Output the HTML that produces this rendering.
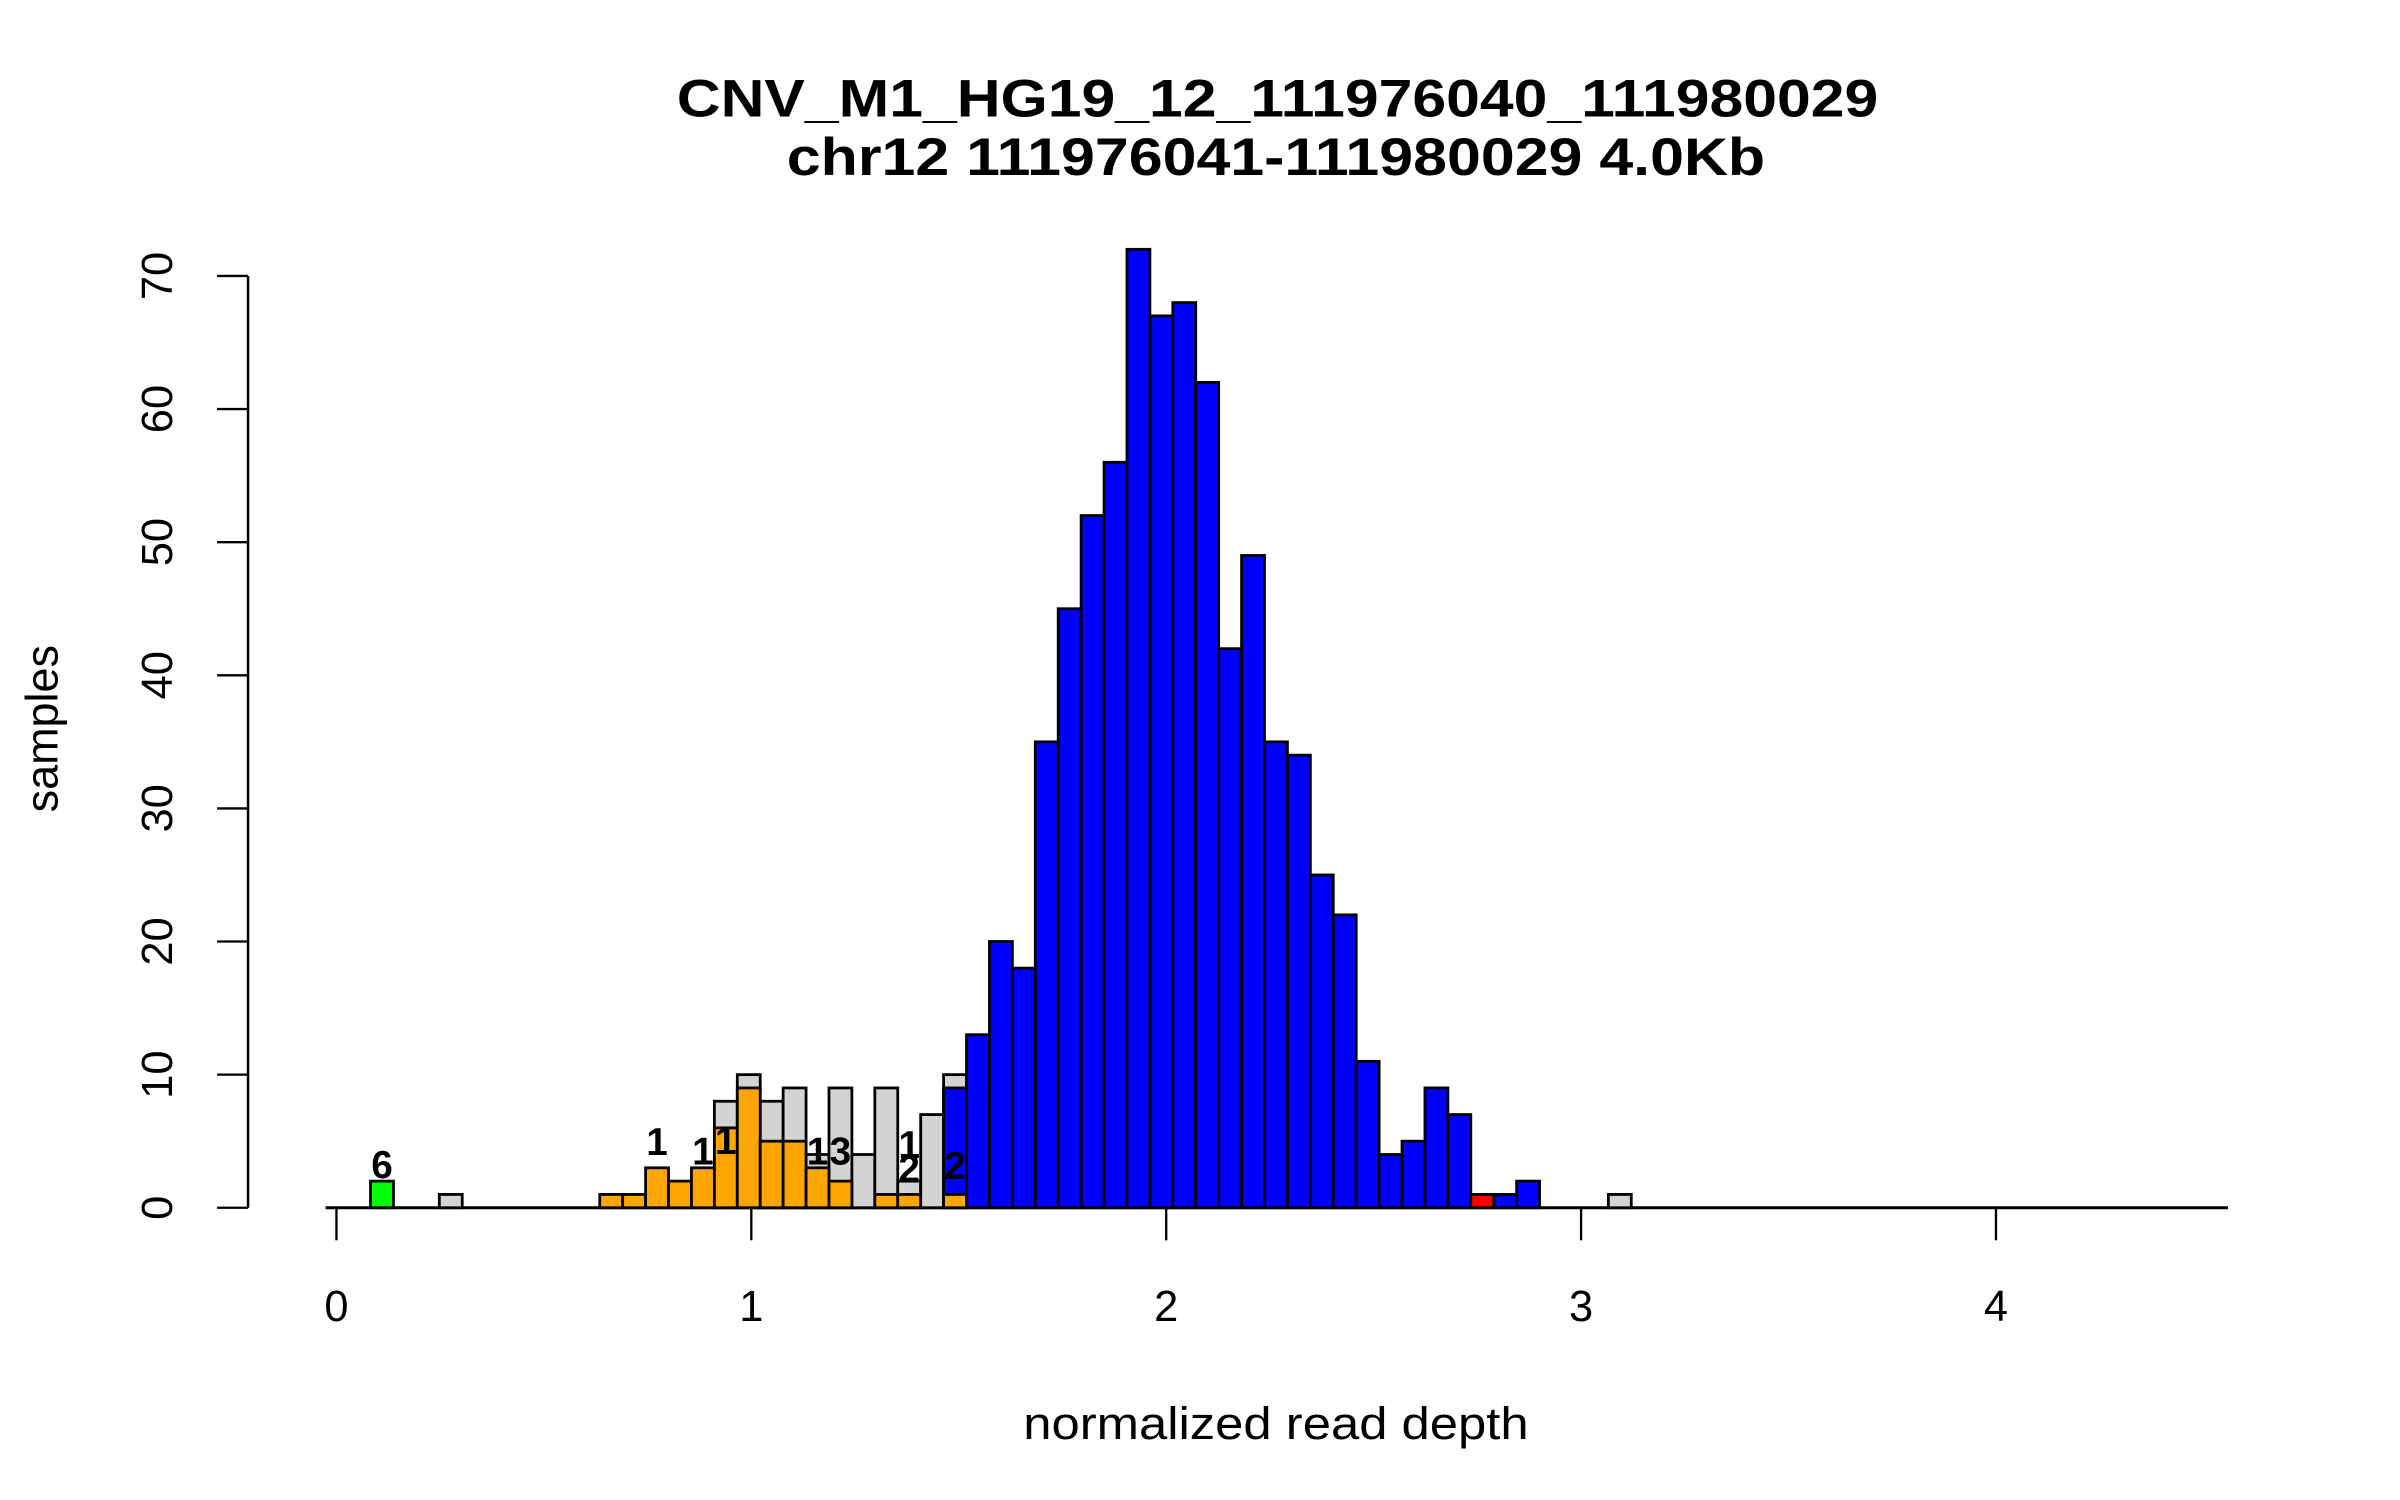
<!DOCTYPE html>
<html><head><meta charset="utf-8"><style>
html,body{margin:0;padding:0;background:#fff}
svg{display:block}
text{font-family:"Liberation Sans",sans-serif;fill:#000}
</style></head><body>
<svg id="chart" width="2400" height="1500" viewBox="0 0 1548 967.5" xmlns="http://www.w3.org/2000/svg">
<text x="824" y="75" text-anchor="middle" font-size="34" font-weight="bold" textLength="775" lengthAdjust="spacingAndGlyphs">CNV_M1_HG19_12_111976040_111980029</text>
<text x="823" y="113" text-anchor="middle" font-size="34" font-weight="bold" textLength="631" lengthAdjust="spacingAndGlyphs">chr12 111976041-111980029 4.0Kb</text>
<text x="823" y="928" text-anchor="middle" font-size="29" textLength="326" lengthAdjust="spacingAndGlyphs">normalized read depth</text>
<text transform="translate(37,470) rotate(-90)" text-anchor="middle" font-size="29">samples</text>
<g id="axes"></g>
<g id="bars"></g>
<g id="labels"></g>
</svg>
<script>
// bin index, bar heights (full histogram = gray, blue, orange, green, red overlays)
const binIdx   = [0,3,10,11,12,13,14,15,16,17,18,19,20,21,22,23,24,25,26,27,28,29,30,31,32,33,34,35,36,37,38,39,40,41,42,43,44,45,46,47,48,49,50,54];
const grayVals = [0,1,0,0,0,0,0,8,10,8,9,4,9,4,9,2,7,10,0,0,0,0,0,0,0,0,0,0,0,0,0,0,0,0,0,0,0,0,0,0,0,0,0,1];
const blueVals = [0,0,0,0,0,0,0,0,0,0,0,0,0,0,0,0,0,9,13,20,18,35,45,52,56,72,67,68,62,42,49,35,34,25,22,11,4,5,9,7,0,1,2,0];
const orangeVals=[0,0,1,1,3,2,3,6,9,5,5,3,2,0,1,1,0,1,0,0,0,0,0,0,0,0,0,0,0,0,0,0,0,0,0,0,0,0,0,0,0,0,0,0];
const greenVals= [2,0,0,0,0,0,0,0,0,0,0,0,0,0,0,0,0,0,0,0,0,0,0,0,0,0,0,0,0,0,0,0,0,0,0,0,0,0,0,0,0,0,0,0];
const redVals  = [0,0,0,0,0,0,0,0,0,0,0,0,0,0,0,0,0,0,0,0,0,0,0,0,0,0,0,0,0,0,0,0,0,0,0,0,0,0,0,0,1,0,0,0];
// annotation labels
const labelBins = [0,12,14,15,19,20,23,23,25];
const labelVals = [3.3,5.0,4.3,5.1,4.3,4.3,4.8,3.0,3.2];
const labelText = ["6","1","1","1","1","3","1","2","2"];
const xTicks = [0,1,2,3,4];
const yTicks = [0,10,20,30,40,50,60,70];

const NS="http://www.w3.org/2000/svg";
const binStart=0.0822, binW=0.05525;
function xs(v){return 217+v*267.6;}
function ys(v){return 779-v*8.586;}
function binX(i){return xs(binStart+i*binW);}
function mk(tag,attrs,parent){const e=document.createElementNS(NS,tag);for(const k in attrs)e.setAttribute(k,attrs[k]);parent.appendChild(e);return e;}
const axes=document.getElementById('axes'),bars=document.getElementById('bars'),labels=document.getElementById('labels');

let l=mk('line',{x1:160,x2:160,y1:ys(70),y2:ys(0),stroke:'#000','stroke-width':1.6},axes);


yTicks.forEach(v=>{
  const t=mk('line',{x1:140,x2:160,y1:ys(v),y2:ys(v),stroke:'#000','stroke-width':1.5},axes);
  
  
  const tx=mk('text',{transform:`translate(111,${ys(v)}) rotate(-90)`,'text-anchor':'middle','font-size':28},axes);
  tx.textContent=v;
  
  
});
l=mk('line',{x1:210,x2:1437,y1:779,y2:779,stroke:'#000','stroke-width':2},axes);


xTicks.forEach(v=>{
  const t=mk('line',{x1:xs(v),x2:xs(v),y1:779,y2:800,stroke:'#000','stroke-width':1.5},axes);
  
  
  const tx=mk('text',{x:xs(v),y:852,'text-anchor':'middle','font-size':28},axes);
  tx.textContent=v;
  
  
});
const layers=[[grayVals,'#d3d3d3','gray'],[blueVals,'#0000ff','blue'],[orangeVals,'#ffa500','orange'],[greenVals,'#00ff00','green'],[redVals,'#ff0000','red']];
layers.forEach(([vals,col,nm])=>{
  vals.forEach((v,k)=>{
    if(!v)return;
    const x=binX(binIdx[k]);
    const r=mk('rect',{x:x,y:ys(v),width:binW*267.6,height:ys(0)-ys(v),fill:col,stroke:'#000','stroke-width':1.8},bars);
    
    
  });
});
labelBins.forEach((b,k)=>{
  const t=mk('text',{x:binX(b)+binW*267.6/2,y:ys(labelVals[k])+9,'text-anchor':'middle','font-size':25,'font-weight':'bold'},labels);
  t.textContent=labelText[k];
  
  
});
</script>
</body></html>
